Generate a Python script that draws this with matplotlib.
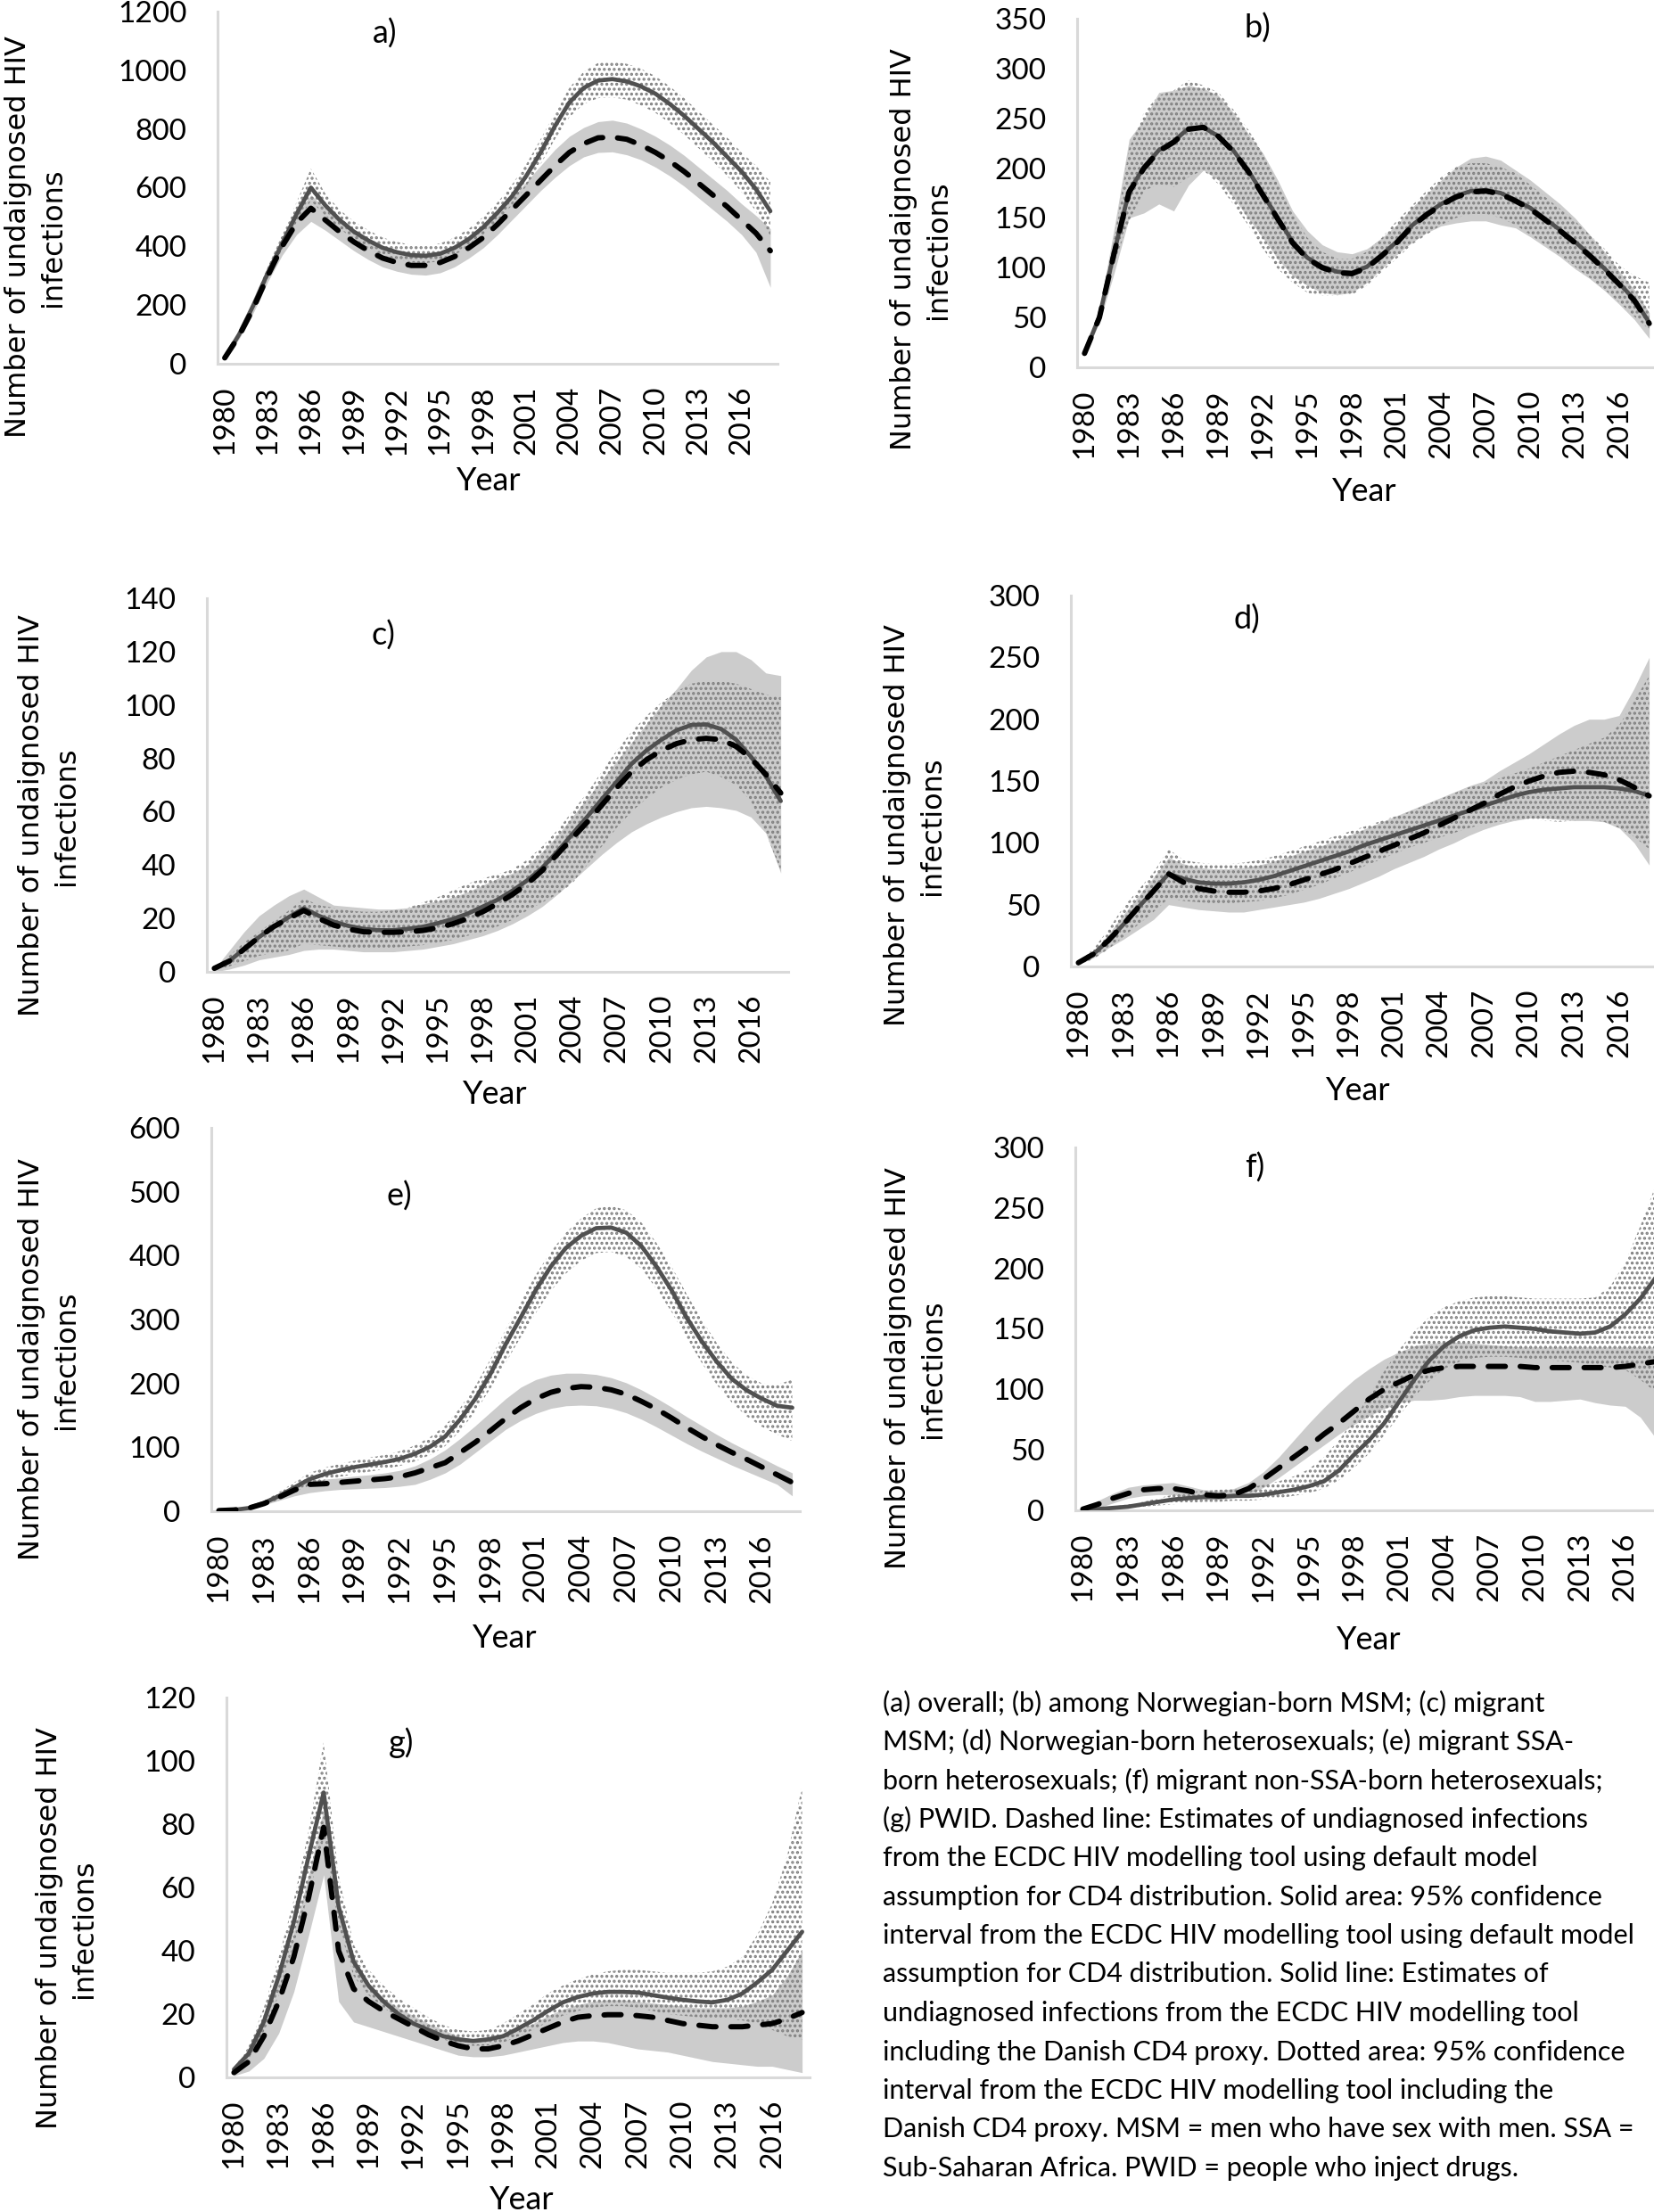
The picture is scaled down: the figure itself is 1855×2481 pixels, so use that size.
import numpy as np
import matplotlib.pyplot as plt

plt.rcParams['font.family'] = ['Lato', 'DejaVu Sans']
plt.rcParams['hatch.linewidth'] = 1.6

years = np.arange(1980, 2019)
xtick_years = list(range(1980, 2017, 3))

# ---- panel a: overall ----
solid_a = [20, 100, 200, 310, 410, 510, 600, 540, 490, 450, 420, 395, 380, 370, 368, 375, 395, 425, 465, 515,
           570, 640, 720, 810, 890, 940, 965, 970, 962, 945, 920, 885, 845, 800, 755, 705, 655, 595, 520]
dash_a = [20, 95, 190, 300, 400, 480, 530, 490, 450, 415, 385, 360, 345, 335, 335, 345, 365, 395, 430, 475,
          525, 575, 625, 675, 720, 750, 770, 772, 765, 745, 720, 690, 655, 615, 575, 535, 490, 445, 385]
gray_lo_a = [15, 85, 175, 280, 370, 440, 485, 455, 420, 385, 355, 330, 315, 305, 302, 310, 330, 360, 395, 440,
             490, 540, 590, 635, 675, 705, 720, 722, 712, 695, 670, 640, 605, 565, 525, 485, 440, 380, 260]
gray_hi_a = [25, 105, 205, 320, 425, 515, 575, 530, 485, 450, 418, 393, 375, 365, 365, 375, 395, 430, 470, 515,
             565, 620, 675, 730, 775, 805, 825, 830, 820, 800, 775, 745, 710, 670, 630, 590, 545, 505, 460]
dot_lo_a = [18, 90, 185, 290, 390, 480, 555, 505, 460, 425, 395, 370, 355, 345, 343, 350, 370, 400, 440, 485,
            540, 605, 680, 765, 840, 885, 905, 908, 900, 880, 855, 820, 780, 735, 690, 640, 585, 520, 430]
dot_hi_a = [24, 110, 215, 330, 440, 550, 665, 580, 525, 485, 455, 430, 415, 405, 403, 410, 430, 460, 500, 550,
            610, 680, 765, 855, 940, 995, 1025, 1030, 1022, 1005, 980, 945, 905, 860, 815, 770, 720, 675, 620]

# ---- panel b: Norwegian-born MSM ----
solid_b = [14, 51, 116, 177, 201, 218, 227, 240, 241, 232, 218, 198, 174, 150, 126, 110, 101, 96, 95, 101,
           113, 126, 142, 154, 164, 172, 177, 178, 175, 168, 160, 149, 138, 126, 113, 99, 84, 68, 45]
dash_b = [14, 50, 115, 176, 200, 217, 226, 239, 241, 232, 217, 197, 173, 149, 125, 109, 100, 95, 94, 100,
          112, 125, 141, 153, 163, 171, 176, 177, 174, 167, 159, 148, 137, 125, 112, 98, 83, 67, 44]
gray_lo_b = [12, 45, 95, 150, 155, 164, 157, 183, 198, 188, 171, 150, 130, 109, 92, 82, 75, 73, 75, 85,
             99, 113, 125, 135, 142, 145, 147, 147, 143, 140, 131, 121, 111, 99, 89, 77, 63, 48, 29]
gray_hi_b = [16, 58, 140, 229, 249, 276, 278, 283, 280, 273, 256, 235, 215, 188, 157, 137, 123, 116, 114, 119,
             130, 143, 160, 174, 188, 201, 210, 212, 208, 198, 188, 176, 164, 150, 133, 116, 96, 78, 55]
dot_lo_b = [13, 47, 105, 147, 177, 184, 181, 191, 198, 184, 164, 143, 119, 99, 85, 75, 72, 72, 73, 82,
            96, 109, 123, 133, 143, 150, 154, 154, 150, 143, 133, 123, 113, 101, 90, 78, 65, 51, 38]
dot_hi_b = [15, 56, 130, 220, 256, 273, 278, 288, 283, 276, 259, 239, 215, 184, 154, 130, 116, 109, 109, 116,
            130, 147, 162, 177, 191, 201, 205, 205, 201, 195, 183, 171, 159, 147, 133, 119, 102, 92, 85]

# ---- panel c: migrant MSM ----
solid_c = [1.3, 4, 8.6, 13, 17, 20.5, 23.8, 21, 18.8, 17.2, 16.1, 15.6, 15.6, 16.1, 16.9, 18.2, 19.8, 21.8, 24.4, 27,
           30.4, 34.3, 39, 45, 51.5, 58, 64.7, 71.3, 78, 83, 87, 90.5, 92.5, 92.7, 91, 87, 80.6, 73.3, 64]
dash_c = [1.3, 4, 8.5, 13, 17, 20, 23, 20, 17.5, 16, 15, 14.8, 14.8, 15, 15.5, 16.5, 18, 20, 22.5, 25.5,
          29, 33, 38, 44, 50, 56, 62.5, 69, 75, 79.5, 83, 85.5, 87, 87.5, 87, 84.5, 80, 74, 67]
gray_lo_c = [0, 1, 2.5, 4.5, 5.5, 6.5, 8, 8.5, 8.5, 8, 7.5, 7.5, 7.5, 8, 8.5, 9.5, 10.5, 12, 13.5, 15.5,
             18, 21, 24.5, 29, 34, 39, 44, 48.5, 52.5, 55.5, 58, 60, 61.5, 62, 61.5, 60.5, 58, 52, 37]
gray_hi_c = [1, 8, 15, 21, 25, 28.5, 31, 28, 25, 24.5, 24, 23.5, 23.5, 24, 25.5, 26.5, 28, 30, 32.5, 35,
             37, 40, 45, 51, 58, 65, 72, 79, 86, 93, 100, 106, 113, 118, 120, 120, 117, 112, 111]
dot_lo_c = [0.5, 2, 4, 6, 7, 8, 10.5, 10, 9.5, 9, 9, 9, 9, 9.5, 10, 11, 12, 13.5, 15, 17,
            19.5, 23, 26, 29, 33, 40, 47, 54, 60, 65, 69, 72, 74, 75, 73, 70, 64, 52, 38]
dot_hi_c = [1.5, 6, 11, 15, 19, 23, 27.5, 25, 24, 23, 22.5, 22.5, 23, 24, 26, 28, 30.5, 33, 35, 36.5,
            38.5, 42, 47, 53, 60, 67, 75, 83, 90, 96, 101, 105, 108, 109, 109, 108, 106, 104, 103]

# ---- panel d: Norwegian-born heterosexuals ----
solid_d = [3, 10, 21, 34, 48, 61, 75, 71, 68, 67, 67, 68, 70, 73, 77, 81, 85, 89, 93, 98,
           102, 106, 110, 114, 118, 122, 126, 130, 134, 138, 141, 143, 144, 145, 145, 145, 144, 142, 138]
dash_d = [3, 10, 21, 34, 48, 61, 75, 68, 63, 61, 60, 60, 61, 63, 66, 70, 74, 78, 83, 88,
          93, 98, 103, 108, 114, 120, 126, 132, 139, 145, 150, 154, 157, 158, 157, 155, 151, 145, 138]
gray_lo_d = [2, 7, 15, 22, 30, 38, 50, 48, 46, 45, 44, 44, 46, 48, 50, 52, 55, 59, 63, 68,
             73, 79, 84, 89, 95, 100, 106, 111, 115, 118, 120, 120, 119, 118, 118, 117, 112, 100, 82]
gray_hi_d = [4, 12, 26, 42, 57, 72, 88, 83, 80, 79, 79, 80, 82, 85, 89, 93, 97, 101, 106, 111,
             116, 121, 126, 131, 136, 141, 146, 150, 158, 165, 172, 180, 188, 195, 200, 200, 203, 225, 250]
dot_lo_d = [1, 6, 14, 24, 34, 44, 55, 53, 52, 51, 51, 52, 53, 55, 58, 62, 66, 71, 76, 81,
            86, 91, 96, 100, 104, 108, 112, 115, 117, 118, 119, 118, 117, 118, 119, 117, 112, 105, 95]
dot_hi_d = [4, 14, 30, 48, 62, 76, 95, 86, 84, 83, 83, 84, 86, 89, 93, 97, 101, 105, 109, 113,
            117, 121, 125, 130, 135, 140, 145, 148, 152, 156, 160, 165, 170, 175, 180, 185, 195, 215, 235]

# ---- panel e: migrant SSA-born heterosexuals ----
solid_e = [1, 2, 5, 13, 24, 37, 50, 58, 64, 69, 73, 77, 82, 90, 101, 117, 144, 176, 215, 261,
           303, 346, 383, 412, 431, 443, 444, 436, 415, 383, 346, 303, 266, 234, 207, 189, 176, 165, 162]
dash_e = [1, 2, 5, 12, 22, 33, 42, 43, 45, 47, 49, 51, 54, 60, 68, 76, 92, 108, 126, 145,
          162, 176, 186, 192, 195, 194, 190, 183, 172, 160, 146, 131, 117, 104, 92, 81, 69, 57, 45]
gray_lo_e = [0, 1, 4, 10, 17, 24, 29, 32, 34, 35, 36, 37, 39, 42, 50, 60, 74, 92, 110, 128,
             142, 153, 161, 165, 166, 165, 161, 154, 144, 132, 119, 106, 94, 83, 72, 62, 52, 42, 24]
gray_hi_e = [1, 2, 6, 14, 26, 38, 48, 50, 52, 55, 57, 60, 64, 71, 82, 96, 114, 134, 155, 176,
             194, 206, 213, 216, 216, 214, 209, 201, 190, 177, 163, 148, 134, 120, 107, 95, 83, 71, 60]
dot_lo_e = [0, 1, 4, 10, 18, 30, 40, 48, 54, 58, 62, 66, 71, 78, 88, 102, 126, 156, 192, 232,
            272, 310, 345, 372, 392, 404, 406, 398, 380, 348, 312, 272, 232, 198, 170, 148, 132, 120, 110]
dot_hi_e = [1, 3, 7, 16, 30, 45, 60, 68, 74, 79, 84, 88, 94, 103, 116, 134, 162, 196, 238, 284,
            328, 370, 406, 436, 458, 474, 478, 471, 452, 420, 383, 340, 300, 263, 233, 212, 200, 198, 206]

# ---- panel f: migrant non-SSA-born heterosexuals ----
solid_f = [0, 1, 2, 3, 5, 7, 9, 10, 11, 11, 12, 12, 13, 15, 17, 20, 24, 33, 46, 58,
           72, 90, 108, 124, 136, 144, 149, 151, 152, 151, 150, 148, 147, 146, 147, 152, 162, 175, 192]
dash_f = [1, 5, 10, 14, 17, 18, 18, 16, 13, 12, 13, 18, 26, 35, 44, 53, 63, 72, 82, 92,
          100, 106, 112, 116, 118, 119, 119, 119, 119, 119, 118, 118, 118, 118, 118, 118, 119, 121, 123]
gray_lo_f = [0, 2, 6, 10, 12, 13, 13, 11, 9, 9, 10, 13, 19, 27, 36, 45, 54, 63, 71, 78,
             84, 89, 91, 91, 92, 94, 95, 95, 95, 94, 90, 90, 91, 92, 89, 87, 86, 77, 60]
gray_hi_f = [1, 8, 14, 19, 21, 22, 23, 20, 17, 16, 18, 23, 32, 44, 58, 72, 85, 97, 108, 117,
             125, 131, 136, 138, 139, 139, 138, 137, 136, 135, 135, 135, 135, 135, 135, 135, 135, 135, 135]
dot_lo_f = [0, 0, 1, 2, 3, 4, 5, 6, 7, 7, 8, 8, 9, 10, 12, 14, 18, 25, 35, 47,
            62, 78, 94, 107, 117, 123, 126, 127, 127, 126, 125, 124, 123, 122, 120, 118, 116, 108, 98]
dot_hi_f = [1, 2, 3, 5, 7, 10, 13, 15, 16, 17, 18, 19, 21, 24, 28, 34, 44, 58, 75, 95,
            115, 133, 148, 160, 168, 173, 176, 177, 177, 176, 175, 175, 175, 175, 176, 185, 205, 235, 268]

# ---- panel g: PWID ----
solid_g = [2.5, 7.6, 17.6, 32, 49, 70, 90, 54, 36.6, 29, 24, 20, 17, 15, 13, 12, 11.5, 12, 13, 15.4,
           18, 21, 23.7, 25.4, 26.5, 27, 27, 26.8, 26, 25.2, 24.5, 24, 23.7, 24.5, 26.5, 30, 34, 40, 46]
dash_g = [1.5, 5, 13, 24, 38, 57, 79, 40, 28, 24, 21, 18.5, 16, 13.5, 11.5, 10, 9, 9, 10, 11.5,
          13.5, 15.5, 17.5, 19, 19.5, 19.8, 19.8, 19.5, 19, 18, 17, 16.5, 16, 16, 16, 16.5, 17, 18.5, 20.5]
gray_lo_g = [0.5, 2, 6, 14, 27, 45, 64, 24, 17.5, 16, 14.5, 13, 11.5, 10, 8.5, 7, 6.5, 6.5, 7, 8,
             9, 10, 11, 11.5, 11.5, 11, 10, 9, 8.5, 8, 7, 6, 5, 4.5, 4, 3.5, 3.5, 2.5, 1.5]
gray_hi_g = [2, 8, 18, 31, 46, 64, 85, 55, 36, 29, 25, 22, 19.5, 17, 15, 13, 12, 12.5, 13.5, 15,
             17, 19.5, 21.5, 23, 24, 24.5, 24.5, 24, 23.5, 23, 22.5, 22, 22, 22, 22.5, 24, 26, 32, 40]
dot_lo_g = [1.5, 6, 14, 26, 42, 58, 75, 48, 32, 26, 22, 19, 16.5, 14, 12, 10.5, 10, 10, 11, 13,
            15, 17.5, 19.5, 21, 22, 22.5, 22.5, 22, 21, 20, 19.5, 19, 18.5, 18.5, 18, 17, 15, 13, 12]
dot_hi_g = [3, 10, 22, 38, 56, 78, 106, 64, 42, 34, 29, 25, 22, 19, 16.5, 15, 14.5, 15, 17, 20,
            23, 26.5, 29, 31, 32.5, 33.5, 34, 34, 33.5, 33, 33, 33, 33.5, 35, 38, 45, 55, 70, 92]

panels = [
    ('a)', solid_a, dash_a, gray_lo_a, gray_hi_a, dot_lo_a, dot_hi_a, 1200, 200),
    ('b)', solid_b, dash_b, gray_lo_b, gray_hi_b, dot_lo_b, dot_hi_b, 350, 50),
    ('c)', solid_c, dash_c, gray_lo_c, gray_hi_c, dot_lo_c, dot_hi_c, 140, 20),
    ('d)', solid_d, dash_d, gray_lo_d, gray_hi_d, dot_lo_d, dot_hi_d, 300, 50),
    ('e)', solid_e, dash_e, gray_lo_e, gray_hi_e, dot_lo_e, dot_hi_e, 600, 100),
    ('f)', solid_f, dash_f, gray_lo_f, gray_hi_f, dot_lo_f, dot_hi_f, 300, 50),
    ('g)', solid_g, dash_g, gray_lo_g, gray_hi_g, dot_lo_g, dot_hi_g, 120, 20),
]

caption_lines = [
    "(a) overall; (b) among Norwegian-born MSM; (c) migrant",
    "MSM; (d) Norwegian-born heterosexuals; (e) migrant SSA-",
    "born heterosexuals; (f) migrant non-SSA-born heterosexuals;",
    "(g) PWID. Dashed line: Estimates of undiagnosed infections",
    "from the ECDC HIV modelling tool using default model",
    "assumption for CD4 distribution. Solid area: 95% confidence",
    "interval from the ECDC HIV modelling tool using default model",
    "assumption for CD4 distribution. Solid line: Estimates of",
    "undiagnosed infections from the ECDC HIV modelling tool",
    "including the Danish CD4 proxy. Dotted area: 95% confidence",
    "interval from the ECDC HIV modelling tool including the",
    "Danish CD4 proxy. MSM = men who have sex with men. SSA =",
    "Sub-Saharan Africa. PWID = people who inject drugs.",
]

# layout in pixels of the 1855x2481 canvas
W, H = 1855, 2481
# axes box: left, right, top, bottom
boxes = [(244, 872, 13, 408), (1208, 1858, 21, 412),
         (232, 884, 671, 1090), (1201, 1858, 668, 1084),
         (237, 897, 1265, 1695), (1206, 1865, 1287, 1694),
         (254, 908, 1904, 2330)]
ylabel_pos = [(40, 266), (1033, 280), (55, 915), (1026, 926), (55, 1525), (1027, 1535), (75, 2163)]
year_pos = [(548, 540), (1530, 552), (555, 1228), (1523, 1223), (566, 1838), (1535, 1840), (585, 2468)]
tag_pos = [(432, 38), (1410, 32), (430, 713), (1398, 695), (448, 1342), (1407, 1310), (450, 1955)]

def fx(x):
    return x / W

def fy(y):
    return 1 - y / H

fig = plt.figure(figsize=(W / 100, H / 100), dpi=100)

for i, (tag, solid, dash, glo, ghi, dlo, dhi, ymax, ystep) in enumerate(panels):
    l, r, t, b = boxes[i]
    ax = fig.add_axes([fx(l), fy(b), (r - l) / W, (b - t) / H])
    ax.fill_between(years, glo, ghi, color='#cccccc', lw=0, zorder=1)
    ax.fill_between(years, dlo, dhi, facecolor='none', edgecolor='#7f7f7f', hatch='...', lw=0, zorder=2)
    ax.plot(years, solid, color='#505050', lw=3.4, zorder=3, solid_capstyle='round')
    ax.plot(years, dash, color='black', lw=4.3, linestyle=(0, (3.2, 2.8)),
            dash_capstyle='round', zorder=4)
    ax.set_xlim(1979.5, 2018.5)
    ax.set_ylim(0, ymax)
    ax.set_yticks(np.arange(0, ymax + 1, ystep))
    ax.set_xticks(xtick_years)
    ax.set_xticklabels([str(y) for y in xtick_years], rotation=90)
    ax.tick_params(axis='y', length=0, pad=25, labelsize=24)
    ax.tick_params(axis='x', length=0, pad=18, labelsize=24)
    for s in ['top', 'right']:
        ax.spines[s].set_visible(False)
    for s in ['left', 'bottom']:
        ax.spines[s].set_color('#d9d9d9')
        ax.spines[s].set_linewidth(2.2)
    ax.patch.set_alpha(0)

    fig.text(fx(ylabel_pos[i][0]), fy(ylabel_pos[i][1]), 'Number of undaignosed HIV\ninfections',
             rotation=90, ha='center', va='center', multialignment='center',
             fontsize=23, family='DejaVu Sans', linespacing=1.35)
    fig.text(fx(year_pos[i][0]), fy(year_pos[i][1]), 'Year', ha='center', va='center', fontsize=26)
    fig.text(fx(tag_pos[i][0]), fy(tag_pos[i][1]), tag, ha='center', va='center', fontsize=26)

# caption text block
cap_x, cap_y0, cap_dy = 990, 1910, 43.5
for k, line in enumerate(caption_lines):
    fig.text(fx(cap_x), fy(cap_y0 + k * cap_dy), line, ha='left', va='center', fontsize=22)

fig.savefig('out.png', dpi=100)
